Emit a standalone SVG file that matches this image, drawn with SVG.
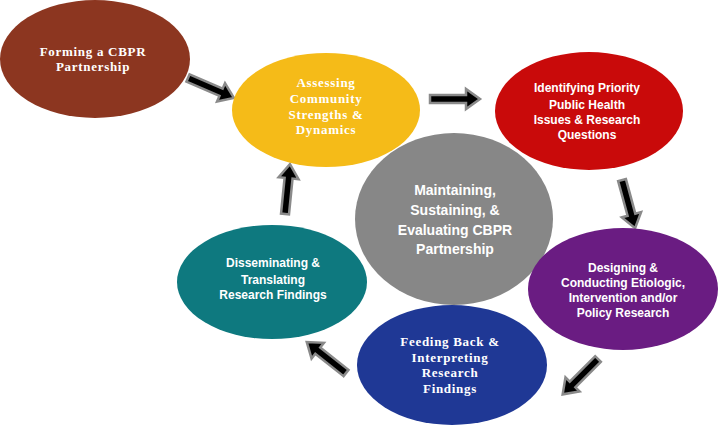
<svg xmlns="http://www.w3.org/2000/svg" xmlns:xlink="http://www.w3.org/1999/xlink" width="719" height="426" viewBox="0 0 719 426">
<style>
.serif{font-family:"Liberation Serif","Times New Roman",serif;font-weight:bold;font-size:13px;letter-spacing:0.7px;fill:#fff;text-anchor:middle}
.sans{font-family:"Liberation Sans",Arial,sans-serif;font-weight:bold;font-size:12px;fill:#fff;text-anchor:middle}
.big{font-family:"Liberation Sans",Arial,sans-serif;font-weight:bold;font-size:14px;fill:#fff;text-anchor:middle}
.arrow{fill:#000;stroke:#8a8a8a;stroke-width:2.5;stroke-linejoin:miter}
</style>
<defs>
<path id="arr" d="M0,-4 L36,-4 L36,-10 L50,0 L36,10 L36,4 L0,4 Z"/>
</defs>
<rect width="719" height="426" fill="#fff"/>
<g id="connectors">
<use xlink:href="#arr" class="arrow" transform="translate(188,78) rotate(23.4)"/>
<use xlink:href="#arr" class="arrow" transform="translate(430,99)"/>
<use xlink:href="#arr" class="arrow" transform="translate(622,180) rotate(74.8)"/>
<use xlink:href="#arr" class="arrow" transform="translate(598,359) rotate(135)"/>
<use xlink:href="#arr" class="arrow" transform="translate(346,373) rotate(218.3)"/>
<use xlink:href="#arr" class="arrow" transform="translate(285,214) rotate(-84.3)"/>
</g>
<g id="forming">
<ellipse cx="95" cy="59" rx="95" ry="59" fill="#8c3620"/>
<text class="serif" x="93" y="56">Forming a CBPR</text>
<text class="serif" x="93" y="71">Partnership</text>
</g>
<g id="assessing">
<ellipse cx="326" cy="110" rx="94" ry="57" fill="#f5bb18"/>
<text class="serif" x="326" y="87">Assessing</text>
<text class="serif" x="326" y="103">Community</text>
<text class="serif" x="326" y="119">Strengths &amp;</text>
<text class="serif" x="326" y="134">Dynamics</text>
</g>
<g id="identifying">
<ellipse cx="589" cy="111" rx="94" ry="59" fill="#c90a0a"/>
<text class="sans" x="587" y="92">Identifying Priority</text>
<text class="sans" x="587" y="109">Public Health</text>
<text class="sans" x="587" y="124">Issues &amp; Research</text>
<text class="sans" x="587" y="139">Questions</text>
</g>
<g id="maintaining">
<ellipse cx="454" cy="219" rx="99" ry="86" fill="#878787"/>
<text class="big" x="455" y="195">Maintaining,</text>
<text class="big" x="455" y="215">Sustaining, &amp;</text>
<text class="big" x="455" y="235">Evaluating CBPR</text>
<text class="big" x="455" y="254">Partnership</text>
</g>
<g id="disseminating">
<ellipse cx="272" cy="282" rx="95" ry="57" fill="#0e797f"/>
<text class="sans" x="273" y="267">Disseminating &amp;</text>
<text class="sans" x="273" y="284">Translating</text>
<text class="sans" x="273" y="299">Research Findings</text>
</g>
<g id="designing">
<ellipse cx="623" cy="289" rx="95" ry="61" fill="#6a1c82"/>
<text class="sans" x="623" y="272">Designing &amp;</text>
<text class="sans" x="623" y="287">Conducting Etiologic,</text>
<text class="sans" x="623" y="302">Intervention and/or</text>
<text class="sans" x="623" y="317">Policy Research</text>
</g>
<g id="feeding">
<ellipse cx="452" cy="365" rx="95" ry="60" fill="#1f3895"/>
<text class="serif" x="450" y="346">Feeding Back &amp;</text>
<text class="serif" x="450" y="362">Interpreting</text>
<text class="serif" x="450" y="377">Research</text>
<text class="serif" x="450" y="393">Findings</text>
</g>
</svg>
